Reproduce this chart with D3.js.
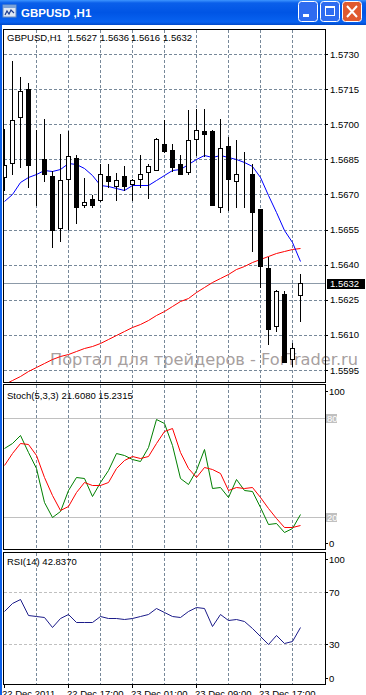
<!DOCTYPE html>
<html>
<head>
<meta charset="utf-8">
<script src="https://cdn.jsdelivr.net/npm/d3@7"></script>
<style>
  html, body { margin: 0; padding: 0; background: #fff; }
  svg { display: block; font-family: "Liberation Sans", Arial, sans-serif; }
</style>
</head>
<body>
<div id="chart"></div>
<script>
// GBPUSD H1 bars
var opens  = [1.56774,1.56834,1.57029,1.57150,1.56836,1.56850,1.56777,1.56557,1.56767,1.56857,
              1.56654,1.56679,1.56677,1.56777,1.56737,1.56777,1.56746,1.56767,1.56796,1.56806,
              1.56917,1.56889,1.56829,1.56796,1.56939,1.56970,1.56970,1.56646,1.56909,1.56759,
              1.56776,1.56789,1.56639,1.56386,1.56136,1.56274,1.55996,1.5627];
var highs  = [1.56981,1.57271,1.57203,1.57174,1.56977,1.57021,1.56800,1.56960,1.56971,1.56867,
              1.56770,1.56696,1.56831,1.56829,1.56791,1.56820,1.56767,1.56867,1.56831,1.56942,
              1.57020,1.56917,1.56867,1.57060,1.57063,1.57067,1.56977,1.57021,1.56946,1.56931,
              1.56881,1.56829,1.56639,1.56431,1.56291,1.56289,1.56067,1.5636];
var lows   = [1.56717,1.56789,1.56817,1.56731,1.56653,1.56757,1.56474,1.56503,1.56553,1.56577,
              1.56646,1.56646,1.56674,1.56731,1.56677,1.56717,1.56677,1.56731,1.56686,1.56803,
              1.56883,1.56800,1.56789,1.56789,1.56867,1.56863,1.56653,1.56624,1.56634,1.56646,
              1.56646,1.56457,1.56303,1.56063,1.56117,1.55986,1.55967,1.5616];
var closes = [1.56824,1.57020,1.57141,1.56824,1.56836,1.56789,1.56549,1.56760,1.56864,1.56646,
              1.56669,1.56653,1.56789,1.56757,1.56760,1.56737,1.56760,1.56789,1.56820,1.56939,
              1.56886,1.56817,1.56789,1.56931,1.56977,1.56960,1.56653,1.56900,1.56766,1.56789,
              1.56776,1.56624,1.56396,1.56124,1.56289,1.55986,1.56046,1.5632];

// moving averages (blue short, red long)
var maFast = [1.56674,1.56700,1.56753,1.56774,1.56786,1.56803,1.56800,1.56810,1.56834,1.56829,
              1.56811,1.56781,1.56741,1.56734,1.56729,1.56720,1.56741,1.56741,1.56741,1.56763,
              1.56784,1.56803,1.56807,1.56831,1.56853,1.56867,1.56860,1.56867,1.56860,1.56850,
              1.56839,1.56820,1.56774,1.56696,1.56624,1.56546,1.56496,1.56417];
var maSlow = [1.55890,1.55907,1.55924,1.55946,1.55963,1.55980,1.55997,1.56008,1.56018,1.56031,
              1.56042,1.56053,1.56065,1.56082,1.56100,1.56117,1.56132,1.56147,1.56164,1.56183,
              1.56202,1.56223,1.56243,1.56258,1.56283,1.56305,1.56326,1.56343,1.56362,1.56381,
              1.56396,1.56411,1.56426,1.56437,1.56448,1.56458,1.56465,1.56471];

// Stoch(5,3,3)
var stochMain = [61.8,64.8,69.8,59.7,49.6,29.3,20.2,23.8,36.4,44.1,
                 43.5,32.8,41.5,48.6,58.7,57.7,55.1,54.0,62.7,79.4,
                 77.3,63.8,43.5,40.1,48.6,61.2,37.8,38.4,32.3,42.9,
                 36.4,35.8,26.3,15.7,16.2,11.1,13.1,21.6];
var stochSignal = [51.6,59.1,65.2,64.4,57.7,44.5,33.4,24.3,26.7,35.4,
                   41.5,39.5,39.5,41.5,49.6,54.7,57.1,55.7,57.1,64.8,
                   72.5,73.9,59.7,49.6,44.5,50.2,49.0,46.6,36.4,38.1,
                   37.4,38.1,32.3,25.3,19.2,14.1,13.7,15.2];

// RSI(14)
var rsi = [55.5,61.5,64.8,52.4,51.9,51.1,43.4,50.3,52.9,46.8,
           46.8,46.8,51.7,50.3,50.3,49.3,50.3,51.7,52.9,57.6,
           55.0,51.7,51.1,55.5,58.6,57.6,44.2,52.9,48.6,49.1,
           47.8,42.1,36.4,30.0,37.0,30.5,32.6,42.8];

var priceTicks = [1.5595,1.5610,1.5625,1.5640,1.5655,1.5670,1.5685,1.5700,1.5715,1.5730];
var stochLevels = [80, 20];
var stochTicks = [100, 80, 20, 0];
var rsiLevels = [70, 30];
var rsiTicks = [100, 70, 30, 0];
var timeLabels = ["22 Dec 2011","22 Dec 17:00","23 Dec 01:00","23 Dec 09:00","23 Dec 17:00"];
var timeLabelBars = [0, 8, 16, 24, 32];
var lastPrice = 1.5632;

var W = 366, H = 695;
var plotL = 3, plotR = 325;
var gridColor = "#778899";

var svg = d3.select("#chart").append("svg")
    .attr("width", W).attr("height", H);

// bar positions
var x = d3.scaleLinear().domain([0, 37]).range([4, 300]);
var idx = d3.range(closes.length);

// panels
var pricePanel = {top: 29, bottom: 382};
var stochPanel = {top: 384, bottom: 549};
var rsiPanel = {top: 552, bottom: 684};

var y = d3.scaleLinear().domain([1.5595, 1.5730]).range([370, 54]);
var yS = d3.scaleLinear().domain([0, 100]).range([549.9, 385.4]);
var yR = d3.scaleLinear().domain([0, 100]).range([682.8, 553.5]);

var defs = svg.append("defs");
function clip(id, p) {
  defs.append("clipPath").attr("id", id).append("rect")
    .attr("x", plotL + 1).attr("y", p.top + 1)
    .attr("width", plotR - plotL - 1).attr("height", p.bottom - p.top - 1);
}
clip("cp", pricePanel); clip("cs", stochPanel); clip("cr", rsiPanel);

// ---- window title bar ----
var tg = defs.append("linearGradient").attr("id", "tbar").attr("x1", 0).attr("y1", 0).attr("x2", 0).attr("y2", 1);
tg.append("stop").attr("offset", "0").attr("stop-color", "#3d95ff");
tg.append("stop").attr("offset", "0.12").attr("stop-color", "#0a5fea");
tg.append("stop").attr("offset", "0.5").attr("stop-color", "#0055e5");
tg.append("stop").attr("offset", "0.88").attr("stop-color", "#0862f0");
tg.append("stop").attr("offset", "1").attr("stop-color", "#0048c8");
svg.append("rect").attr("x", 0).attr("y", 0).attr("width", W).attr("height", 25).attr("fill", "url(#tbar)");
svg.append("rect").attr("x", 0).attr("y", 25).attr("width", 2).attr("height", H - 25).attr("fill", "#0a5fea");

// little window icon
var ic = svg.append("g").attr("transform", "translate(3,5)");
ic.append("rect").attr("x", 0).attr("y", 0).attr("width", 13).attr("height", 12).attr("fill", "#dfe8f5").attr("stroke", "#6d8fc0");
ic.append("rect").attr("x", 0).attr("y", 0).attr("width", 13).attr("height", 3).attr("fill", "#7aa2d8");
ic.append("path").attr("d", "M2,10 L4,6 L6,9 L8,5 L11,8").attr("fill", "none").attr("stroke", "#1f3f8f").attr("stroke-width", 1.2);

svg.append("text").attr("x", 21).attr("y", 17)
  .attr("fill", "#fff").attr("font-weight", "bold").attr("font-size", "11.5px")
  .text("GBPUSD ,H1");

// buttons
function btn(bx, fill) {
  var g = svg.append("g").attr("transform", "translate(" + bx + ",1)");
  g.append("rect").attr("x", 0.5).attr("y", 0.5).attr("width", 19).attr("height", 20).attr("rx", 3)
    .attr("fill", fill).attr("stroke", "#fff");
  return g;
}
var b1 = btn(298, "#2f6cf0");
b1.append("rect").attr("x", 5).attr("y", 13).attr("width", 6).attr("height", 3).attr("fill", "#fff");
var b2 = btn(320, "#2f6cf0");
b2.append("rect").attr("x", 5.5).attr("y", 5.5).attr("width", 9).attr("height", 9).attr("fill", "none").attr("stroke", "#fff");
b2.append("rect").attr("x", 5).attr("y", 5).attr("width", 10).attr("height", 2).attr("fill", "#fff");
var b3 = btn(342, "#e05a2f");
b3.append("path").attr("d", "M5,5 L15,16 M15,5 L5,16").attr("stroke", "#fff").attr("stroke-width", 2);

// ---- grids ----
var gridX = d3.range(4, 38, 4);
function vgrid(p) {
  svg.append("g").selectAll("line").data(gridX).enter().append("line")
    .attr("x1", function(d) { return Math.round(x(d)) + 0.5; })
    .attr("x2", function(d) { return Math.round(x(d)) + 0.5; })
    .attr("y1", p.top + 1).attr("y2", p.bottom)
    .attr("stroke", gridColor).attr("stroke-dasharray", "3,2");
}
vgrid(pricePanel); vgrid(stochPanel); vgrid(rsiPanel);

svg.append("g").selectAll("line").data(priceTicks).enter().append("line")
  .attr("x1", plotL + 1).attr("x2", plotR)
  .attr("y1", function(d) { return Math.round(y(d)) + 0.5; })
  .attr("y2", function(d) { return Math.round(y(d)) + 0.5; })
  .attr("stroke", gridColor).attr("stroke-dasharray", "3,2");

// stoch levels (solid silver), rsi levels (dashed silver)
svg.append("g").selectAll("line").data(stochLevels).enter().append("line")
  .attr("x1", plotL + 1).attr("x2", plotR)
  .attr("y1", function(d) { return Math.round(yS(d)) + 0.5; })
  .attr("y2", function(d) { return Math.round(yS(d)) + 0.5; })
  .attr("stroke", "#c0c0c0");
svg.append("g").selectAll("line").data(rsiLevels).enter().append("line")
  .attr("x1", plotL + 1).attr("x2", plotR)
  .attr("y1", function(d) { return Math.round(yR(d)) + 0.5; })
  .attr("y2", function(d) { return Math.round(yR(d)) + 0.5; })
  .attr("stroke", "#c0c0c0").attr("stroke-dasharray", "3,2");

// watermark
svg.append("text").attr("x", 50).attr("y", 365)
  .attr("font-family", "'DejaVu Sans', Verdana, sans-serif")
  .attr("font-size", "16px").attr("fill", "#a79f9f")
  .attr("textLength", 308).attr("lengthAdjust", "spacingAndGlyphs")
  .text("Портал для трейдеров - ForTrader.ru");

// current price line
svg.append("line").attr("x1", plotL + 1).attr("x2", plotR)
  .attr("y1", Math.round(y(lastPrice)) + 0.5).attr("y2", Math.round(y(lastPrice)) + 0.5)
  .attr("stroke", "#8c9aa8");

// ---- price panel contents ----
var gp = svg.append("g").attr("clip-path", "url(#cp)");

var lineP = function(arr, sc) {
  return d3.line().x(function(i) { return Math.round(x(i)) + 0.5; })
    .y(function(i) { return Math.round(sc(arr[i])) + 0.5; })(idx);
};
gp.append("path").attr("d", lineP(maSlow, y)).attr("fill", "none").attr("stroke", "#ff0000").attr("stroke-width", 1);
gp.append("path").attr("d", lineP(maFast, y)).attr("fill", "none").attr("stroke", "#0000ff").attr("stroke-width", 1);

var candles = gp.selectAll("g.c").data(idx).enter().append("g").attr("class", "c")
  .attr("shape-rendering", "crispEdges");
candles.append("line")
  .attr("x1", function(i) { return Math.round(x(i)) + 0.5; })
  .attr("x2", function(i) { return Math.round(x(i)) + 0.5; })
  .attr("y1", function(i) { return Math.round(y(highs[i])); })
  .attr("y2", function(i) { return Math.round(y(lows[i])) + 1; })
  .attr("stroke", "#000");
candles.append("rect")
  .attr("x", function(i) { return Math.round(x(i)) - 1.5; })
  .attr("width", 4)
  .attr("y", function(i) { return Math.round(y(Math.max(opens[i], closes[i]))) + 0.5; })
  .attr("height", function(i) { return Math.round(y(Math.min(opens[i], closes[i]))) - Math.round(y(Math.max(opens[i], closes[i]))); })
  .attr("fill", function(i) { return closes[i] < opens[i] ? "#000" : "#fff"; })
  .attr("stroke", "#000");

// ---- stoch ----
var gs = svg.append("g").attr("clip-path", "url(#cs)");
gs.append("path").attr("d", lineP(stochMain, yS)).attr("fill", "none").attr("stroke", "#008000");
gs.append("path").attr("d", lineP(stochSignal, yS)).attr("fill", "none").attr("stroke", "#ff0000");

// ---- rsi ----
var gr = svg.append("g").attr("clip-path", "url(#cr)");
gr.append("path").attr("d", lineP(rsi, yR)).attr("fill", "none").attr("stroke", "#1c1c8a");

// ---- panel frames ----
[pricePanel, stochPanel, rsiPanel].forEach(function(p) {
  svg.append("rect").attr("x", plotL + 0.5).attr("y", p.top + 0.5)
    .attr("width", plotR - plotL).attr("height", p.bottom - p.top)
    .attr("fill", "none").attr("stroke", "#000");
});

// ---- axis labels ----
var fs = "9.5px";
var ax = svg.append("g").attr("font-size", fs).attr("fill", "#000");

ax.selectAll("line.pt").data(priceTicks).enter().append("line")
  .attr("x1", plotR).attr("x2", plotR + 3)
  .attr("y1", function(d) { return Math.round(y(d)) + 0.5; })
  .attr("y2", function(d) { return Math.round(y(d)) + 0.5; })
  .attr("stroke", "#000");
ax.selectAll("text.pt").data(priceTicks).enter().append("text")
  .attr("x", 330).attr("y", function(d) { return y(d) + 3.5; })
  .text(function(d) { return d.toFixed(4); });

// last price box
svg.append("rect").attr("x", 327).attr("y", Math.round(y(lastPrice)) - 4)
  .attr("width", 38).attr("height", 10).attr("fill", "#000");
svg.append("text").attr("x", 330).attr("y", y(lastPrice) + 3.5)
  .attr("font-size", fs).attr("fill", "#fff").text(lastPrice.toFixed(4));

function sideTicks(ticks, sc, p, levels) {
  ticks.forEach(function(v) {
    var yy = Math.max(p.top + 7, Math.min(p.bottom - 6, sc(v)));
    ax.append("line").attr("x1", plotR).attr("x2", plotR + 3)
      .attr("y1", Math.round(yy) + 0.5).attr("y2", Math.round(yy) + 0.5).attr("stroke", "#000");
    var boxed = levels === "box" && (v === 80 || v === 20);
    if (boxed) {
      ax.append("rect").attr("x", 326).attr("y", Math.round(yy) - 4)
        .attr("width", 11).attr("height", 9).attr("fill", "#c0c0c0");
    }
    ax.append("text").attr("x", boxed ? 327 : 329).attr("y", yy + 3.5)
      .attr("fill", boxed ? "#fff" : "#000").text(v);
  });
}
sideTicks(stochTicks, yS, stochPanel, "box");
sideTicks(rsiTicks, yR, rsiPanel, "plain");

// indicator headers
var hd = svg.append("g").attr("font-size", fs).attr("fill", "#000");
hd.append("text").attr("x", 7).attr("y", 41).text("GBPUSD,H1");
[["1.5627", 68], ["1.5636", 100], ["1.5616", 131], ["1.5632", 163]].forEach(function(t) {
  hd.append("text").attr("x", t[1]).attr("y", 41).text(t[0]);
});
hd.append("text").attr("x", 7).attr("y", 399).text("Stoch(5,3,3) 21.6080 15.2315");
hd.append("text").attr("x", 7).attr("y", 565).text("RSI(14) 42.8370");

// time axis
var tx = svg.append("g").attr("font-size", fs);
timeLabelBars.forEach(function(b, k) {
  var xx = Math.round(x(b));
  tx.append("line").attr("x1", xx + 0.5).attr("x2", xx + 0.5)
    .attr("y1", rsiPanel.bottom).attr("y2", rsiPanel.bottom + 4).attr("stroke", "#000");
  tx.append("text").attr("x", k === 0 ? 2 : xx - 1).attr("y", 697).text(timeLabels[k]);
});
</script>
</body>
</html>
